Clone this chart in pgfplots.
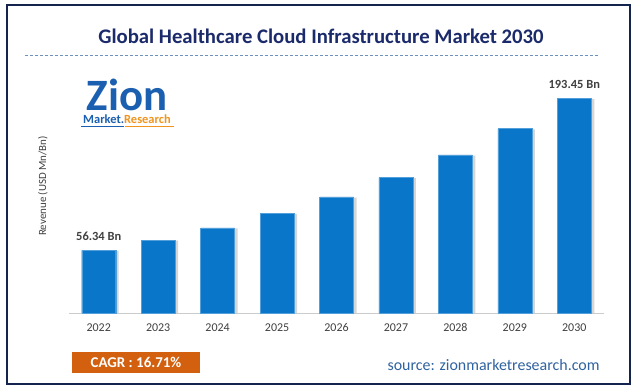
\documentclass[border=0pt]{standalone}
\usepackage{pgfplots}
\pgfplotsset{compat=1.18}
\usepackage{fontspec}
\setmainfont{Carlito}
\definecolor{barblue}{HTML}{0A76C9}
\definecolor{navy}{HTML}{1B2A6B}
\definecolor{framec}{HTML}{15234F}
\definecolor{txtgray}{HTML}{404040}
\definecolor{srcblue}{HTML}{2F62A0}
\definecolor{cagr}{HTML}{D2600F}
\definecolor{logoblue}{HTML}{1B5FB0}
\definecolor{logoorange}{HTML}{F0941E}
\begin{document}
\begin{tikzpicture}[x=1bp,y=1bp]
\path[use as bounding box] (0,0) rectangle (637,389);
\fill[white] (0,0) rectangle (637,389);
\draw[framec,line width=1.6bp] (7,5) rectangle (630,384);
% title
\node[navy,font=\fontsize{20.8}{22}\selectfont\bfseries,anchor=base] at (321,346) {Global Healthcare Cloud Infrastructure Market 2030};
\draw[color=srcblue!70,dashed,dash pattern=on 3bp off 2bp,line width=0.7bp] (25,334) -- (600,334);
% logo
\node[logoblue,font=\fontsize{45}{46}\selectfont\bfseries,anchor=base,inner sep=0pt] at (127,279) {Zion};
\node[font=\fontsize{12.5}{13}\selectfont\bfseries,anchor=base,inner sep=0pt] at (127,265.5) {\textcolor{logoblue}{Market.}\textcolor{logoorange}{Research}};
\draw[logoblue,line width=0.8bp] (81,263) -- (124,263);
\draw[logoorange,line width=0.8bp] (125,263) -- (174,263);
% y label
\node[txtgray,rotate=90,font=\fontsize{11}{12}\selectfont] at (43,203) {Revenue (USD Mn/Bn)};
\begin{axis}[
  at={(69bp,76bp)}, anchor=south west,
  scale only axis, width=535bp, height=222bp,
  xmin=-0.5, xmax=8.5, ymin=0, ymax=200,
  axis x line*=bottom, axis y line=none,
  x axis line style={draw=gray!40,line width=0.8bp,-},
  xtick=data, xticklabels={2022,2023,2024,2025,2026,2027,2028,2029,2030},
  major tick length=0pt,
  xticklabel style={txtgray,font=\fontsize{12}{13}\selectfont, yshift=-7bp},
  /pgf/number format/assume math mode=true,
  clip=false,
]
\addplot[ybar, bar width=30bp, bar shift=5bp, draw=none, fill=gray!45, fill opacity=0.7] coordinates {
(0,55.8) (1,65.2) (2,76.2) (3,89.0) (4,103.9) (5,121.4) (6,141.7) (7,165.4) (8,192.9)};
\addplot[ybar, bar width=34bp, draw=barblue!70!white, line width=0.4bp, fill=barblue] coordinates {
(0,56.34) (1,65.75) (2,76.74) (3,89.56) (4,104.53) (5,122.00) (6,142.38) (7,166.17) (8,193.45)};
\node[txtgray,font=\fontsize{12.5}{13}\selectfont\bfseries,anchor=south] at (axis cs:0,62) {56.34 Bn};
\node[txtgray,font=\fontsize{12.5}{13}\selectfont\bfseries,anchor=south] at (axis cs:8,199) {193.45 Bn};
\end{axis}
% CAGR
\fill[cagr] (72,16) rectangle (200,37);
\node[white,font=\fontsize{15}{16}\selectfont\bfseries] at (136,26.5) {CAGR : 16.71\%};
% source
\node[srcblue,font=\fontsize{16}{17}\selectfont,anchor=east] at (603,24) {source: zionmarketresearch.com};
\end{tikzpicture}
\end{document}
